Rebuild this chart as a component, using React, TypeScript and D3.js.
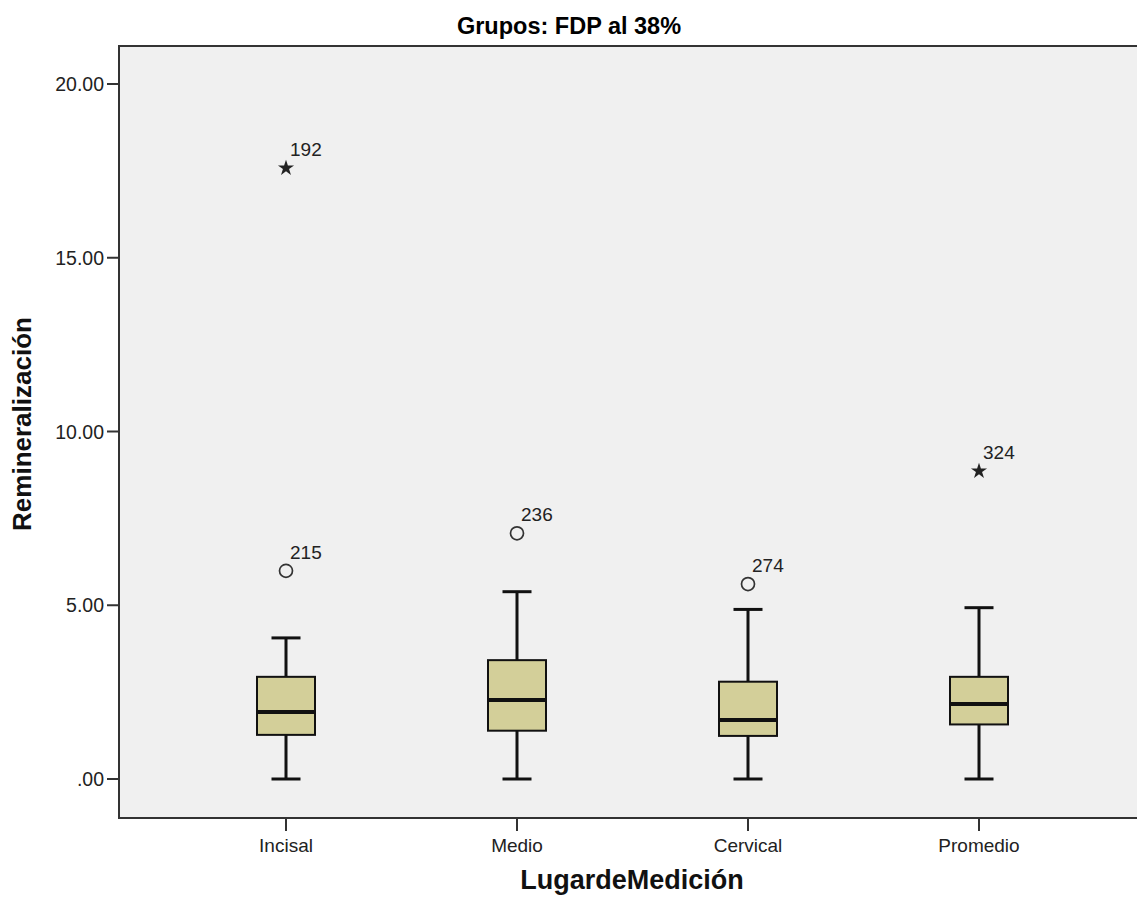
import React from "react";
import * as d3 from "d3";

const categories = ["Incisal", "Medio", "Cervical", "Promedio"];
const whiskerLow = [0, 0, 0, 0];
const q1 = [1.27, 1.39, 1.24, 1.57];
const median = [1.93, 2.27, 1.7, 2.16];
const q3 = [2.94, 3.42, 2.8, 2.94];
const whiskerHigh = [4.06, 5.39, 4.88, 4.93];

// outliers: category, value, case id, kind (o = circle, * = extreme)
const outlierCat = ["Incisal", "Incisal", "Medio", "Cervical", "Promedio"];
const outlierVal = [17.58, 5.99, 7.07, 5.61, 8.86];
const outlierId = ["192", "215", "236", "274", "324"];
const outlierKind = ["*", "o", "o", "o", "*"];

const yTicks = [0, 5, 10, 15, 20];
const yTickLabels = [".00", "5.00", "10.00", "15.00", "20.00"];

const W = 1137;
const H = 902;
const plot = { left: 119, top: 46, right: 1145, bottom: 818 };
const font = "'Liberation Sans', Arial, sans-serif";

export default function App() {
  const x = d3.scaleBand().domain(categories).range([170.5, 1094.5]);
  const y = d3.scaleLinear().domain([0, 20]).range([779, 84]);
  const cx = (c: string) => (x(c) as number) + x.bandwidth() / 2;
  const boxW = 58;
  const capW = 29;
  const star = d3.symbol().type(d3.symbolStar).size(80)();

  return (
    <div style={{ position: "absolute", left: 0, top: 0 }}>
      <svg width={W} height={H} style={{ display: "block", background: "#fff" }}>
        <rect
          x={plot.left}
          y={plot.top}
          width={plot.right - plot.left}
          height={plot.bottom - plot.top}
          fill="#f0f0f0"
          stroke="#333"
          strokeWidth={2}
        />

        <text x={569} y={34} textAnchor="middle" fontFamily={font} fontWeight="bold" fontSize={23.5}>
          Grupos: FDP al 38%
        </text>

        {yTicks.map((t, i) => (
          <g key={t}>
            <line x1={107} x2={plot.left} y1={y(t)} y2={y(t)} stroke="#333" strokeWidth={2} />
            <text x={104} y={y(t) + 7} textAnchor="end" fontFamily={font} fontSize={19.5} fill="#222">
              {yTickLabels[i]}
            </text>
          </g>
        ))}

        {categories.map((c) => (
          <g key={c}>
            <line x1={cx(c)} x2={cx(c)} y1={plot.bottom} y2={831} stroke="#333" strokeWidth={2} />
            <text x={cx(c)} y={852} textAnchor="middle" fontFamily={font} fontSize={19} fill="#222">
              {c}
            </text>
          </g>
        ))}

        {categories.map((c, i) => {
          const m = cx(c);
          return (
            <g key={c} stroke="#111">
              <line x1={m} x2={m} y1={y(whiskerLow[i])} y2={y(q1[i])} strokeWidth={3} />
              <line x1={m} x2={m} y1={y(q3[i])} y2={y(whiskerHigh[i])} strokeWidth={3} />
              <line x1={m - capW / 2} x2={m + capW / 2} y1={y(whiskerLow[i])} y2={y(whiskerLow[i])} strokeWidth={3} />
              <line x1={m - capW / 2} x2={m + capW / 2} y1={y(whiskerHigh[i])} y2={y(whiskerHigh[i])} strokeWidth={3} />
              <rect
                x={m - boxW / 2}
                y={y(q3[i])}
                width={boxW}
                height={y(q1[i]) - y(q3[i])}
                fill="#d3cf99"
                strokeWidth={2}
              />
              <line x1={m - boxW / 2} x2={m + boxW / 2} y1={y(median[i])} y2={y(median[i])} strokeWidth={4} />
            </g>
          );
        })}

        {outlierVal.map((v, i) => {
          const m = cx(outlierCat[i]);
          const py = y(v);
          return (
            <g key={outlierId[i]}>
              {outlierKind[i] === "o" ? (
                <circle cx={m} cy={py} r={6.5} fill="none" stroke="#333" strokeWidth={1.7} />
              ) : (
                <path d={star as string} transform={`translate(${m},${py})`} fill="#222" />
              )}
              <text x={m + 4} y={py - 12} fontFamily={font} fontSize={19} fill="#222">
                {outlierId[i]}
              </text>
            </g>
          );
        })}

        <text
          transform={`translate(31,424) rotate(-90)`}
          textAnchor="middle"
          fontFamily={font}
          fontWeight="bold"
          fontSize={26}
          fill="#111"
        >
          Remineralización
        </text>
        <text x={632} y={889} textAnchor="middle" fontFamily={font} fontWeight="bold" fontSize={27} fill="#111">
          LugardeMedición
        </text>
      </svg>
    </div>
  );
}
